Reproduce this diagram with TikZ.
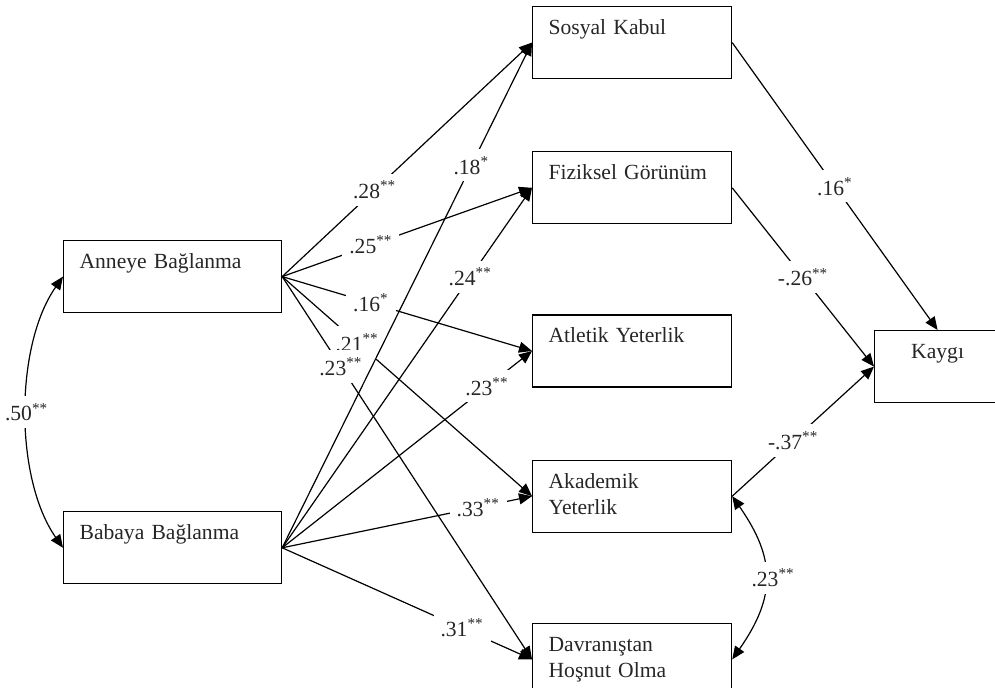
\documentclass[tikz,border=0pt]{standalone}
\usepackage{fontspec}
\setmainfont{Liberation Serif}
\usetikzlibrary{positioning,arrows.meta}

\tikzset{
  box/.style={draw, rectangle, text=black!85, inner xsep=8pt, inner ysep=0pt,
    text width=83.5pt, align=left, text height=14pt, text depth=22pt},
  coef/.style={fill=white, inner sep=3.5pt, text=black!85},
}

\begin{document}
\begin{tikzpicture}[x=0.5pt,y=-0.5pt,node distance=36pt,
    font=\fontsize{10.8}{13}\selectfont, line width=0.6pt,
    >={Triangle[length=6.5pt,width=5.5pt]}]
  \useasboundingbox (0,0) rectangle (995,688);

  \node[box,anchor=north west,text width=93pt] (anneye) at (63,240) {Anneye Bağlanma};
  \node[box,text width=93pt] (babaya) [below=99pt of anneye] {Babaya Bağlanma};

  \node[box,anchor=north west] (sosyal) at (532,6) {Sosyal Kabul};
  \node[box] (fiziksel) [below=of sosyal] {Fiziksel Görünüm};
  \node[box] (atletik) [below=45pt of fiziksel] {Atletik Yeterlik};
  \node[box] (akademik) [below=of atletik] {Akademik\\Yeterlik};
  \node[box] (davranis) [below=45pt of akademik] {Davranıştan\\Hoşnut Olma};

  \node[box,anchor=north west,text width=47pt,align=center] (kaygi) at (874,330) {Kaygı};

  \path[->] (anneye.east) edge node[coef,pos=.37] {.28\textsuperscript{**}} (sosyal.west)
            (anneye.east) edge node[coef,pos=.355] {.25\textsuperscript{**}} (fiziksel.west)
            (anneye.east) edge node[coef,pos=.355] {.16\textsuperscript{*}} (atletik.west)
            (anneye.east) edge node[coef,pos=.30] {.21\textsuperscript{**}} (akademik.west)
            (anneye.east) edge node[coef,pos=.235] {.23\textsuperscript{**}} (davranis.west);

  \path[->] (babaya.east) edge node[coef,pos=.757] {.18\textsuperscript{*}} (sosyal.west)
            (babaya.east) edge node[coef,pos=.753] {.24\textsuperscript{**}} (fiziksel.west)
            (babaya.east) edge node[coef,pos=.82] {.23\textsuperscript{**}} (atletik.west)
            (babaya.east) edge node[coef,pos=.785] {.33\textsuperscript{**}} (akademik.west)
            (babaya.east) edge node[coef,pos=.72] {.31\textsuperscript{**}} (davranis.west);

  \path[->] (sosyal.east) edge node[coef,pos=.5] {.16\textsuperscript{*}} (kaygi.north)
            (fiziksel.east) edge node[coef,pos=.5] {-.26\textsuperscript{**}} (kaygi.west)
            (akademik.east) edge node[coef,pos=.43] {-.37\textsuperscript{**}} (kaygi.west);

  % covariances
  \path[<->] (anneye.west) edge[out=235,in=125,looseness=.8] node[coef] {.50\textsuperscript{**}} (babaya.west)
             (akademik.east) edge[out=-55,in=55,looseness=1.2] node[coef,xshift=4pt] {.23\textsuperscript{**}} (davranis.east);
\end{tikzpicture}
\end{document}
